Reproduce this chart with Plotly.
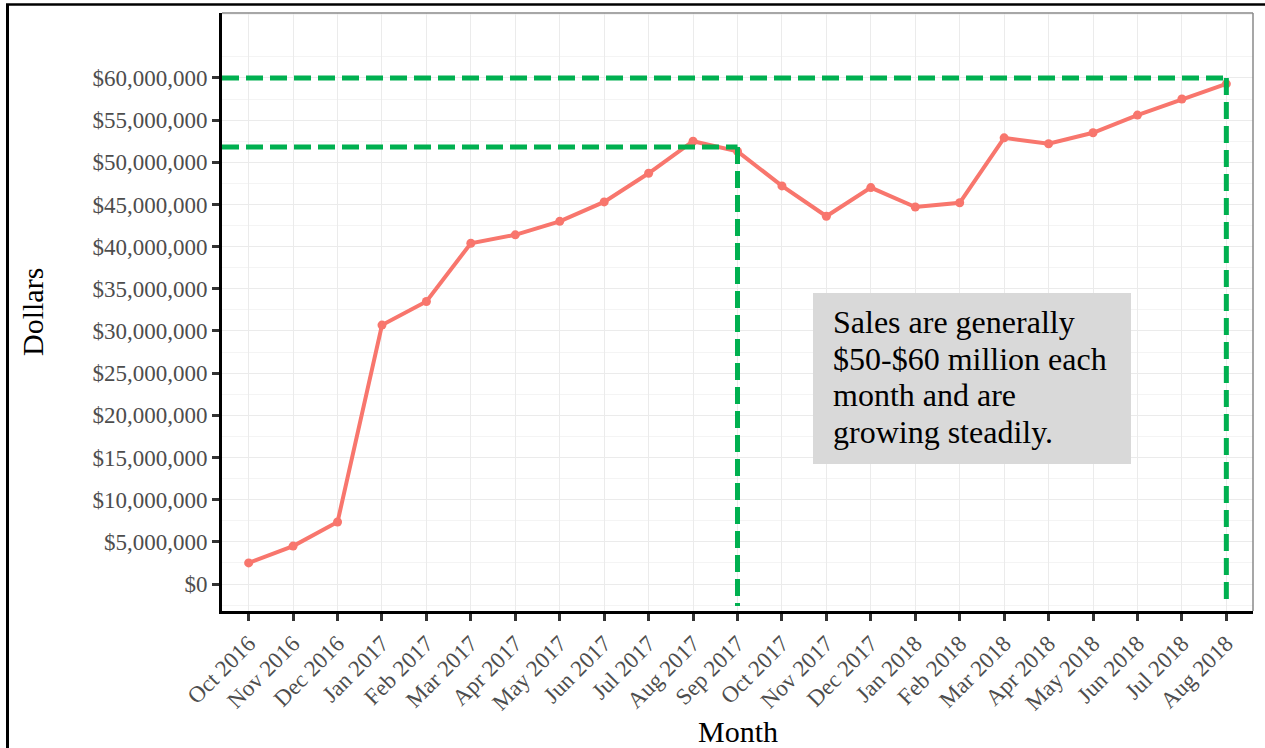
import plotly.graph_objects as go

# Monthly sales totals
months = ["Oct 2016", "Nov 2016", "Dec 2016", "Jan 2017", "Feb 2017", "Mar 2017",
          "Apr 2017", "May 2017", "Jun 2017", "Jul 2017", "Aug 2017", "Sep 2017",
          "Oct 2017", "Nov 2017", "Dec 2017", "Jan 2018", "Feb 2018", "Mar 2018",
          "Apr 2018", "May 2018", "Jun 2018", "Jul 2018", "Aug 2018"]
sales = [2.5e6, 4.5e6, 7.35e6, 30.7e6, 33.5e6, 40.4e6,
         41.4e6, 43.0e6, 45.3e6, 48.7e6, 52.5e6, 51.3e6,
         47.2e6, 43.6e6, 47.0e6, 44.7e6, 45.2e6, 52.9e6,
         52.2e6, 53.5e6, 55.6e6, 57.5e6, 59.3e6]

# Reference guide lines: (month, dollar level)
guide_months = ["Sep 2017", "Aug 2018"]
guide_levels = [51.8e6, 60e6]

y_ticks = list(range(0, 60_000_001, 5_000_000))
y_tick_text = ["${:,}".format(v) for v in y_ticks]

note_lines = ["Sales are generally", "$50-$60 million each",
              "month and are", "growing steadily."]

W, H = 1265, 748
L, R, T, B = 222, 1253, 13, 611


def px_x(px):
    return (px - L) / (R - L)


def px_y(py):
    return (B - py) / (B - T)


X_MIN, X_MAX = -0.6, len(months) - 1 + 0.6
Y_MIN, Y_MAX = -3.2e6, 67.7e6

serif = "Liberation Serif, Times New Roman, serif"
green = "#00B050"

fig = go.Figure()
fig.add_trace(go.Scatter(
    x=months, y=sales, mode="lines+markers",
    line=dict(color="#F8766D", width=4),
    marker=dict(color="#F8766D", size=9),
    showlegend=False, hoverinfo="x+y",
))

shapes = []
for m, lvl in zip(guide_months, guide_levels):
    xi = months.index(m)
    dash = dict(color=green, width=5, dash="17px,7px")
    shapes.append(dict(type="line", xref="x", yref="y", x0=X_MIN, x1=xi,
                       y0=lvl, y1=lvl, line=dash, layer="above"))
    shapes.append(dict(type="line", xref="x", yref="y", x0=xi, x1=xi,
                       y0=lvl, y1=-2.6e6, line=dash, layer="above"))

# grey panel border on top and right
shapes.append(dict(type="line", xref="paper", yref="paper", x0=0, x1=1, y0=1, y1=1,
                   line=dict(color="#8a8a8a", width=1.5)))
shapes.append(dict(type="line", xref="paper", yref="paper", x0=1, x1=1, y0=0, y1=1,
                   line=dict(color="#8a8a8a", width=1.5)))

# note box
shapes.append(dict(type="rect", xref="paper", yref="paper",
                   x0=px_x(813), x1=px_x(1131), y0=px_y(464), y1=px_y(293),
                   fillcolor="#d9d9d9", line=dict(width=0), layer="above"))

# frame around the figure
shapes.append(dict(type="line", xref="paper", yref="paper",
                   x0=px_x(7.5), x1=px_x(7.5), y0=px_y(4), y1=px_y(760),
                   line=dict(color="black", width=3)))
shapes.append(dict(type="line", xref="paper", yref="paper",
                   x0=px_x(6), x1=px_x(1280), y0=px_y(4.5), y1=px_y(4.5),
                   line=dict(color="black", width=2.5)))

annotations = []
for i, line in enumerate(note_lines):
    annotations.append(dict(
        text=line, xref="paper", yref="paper", x=px_x(831), y=px_y(322 + 36.7 * i),
        xanchor="left", yanchor="middle", showarrow=False,
        font=dict(family=serif, size=32, color="black"),
    ))

annotations.append(dict(text="Dollars", xref="paper", yref="paper",
                        x=px_x(32), y=px_y(312), textangle=-90,
                        xanchor="center", yanchor="middle", showarrow=False,
                        font=dict(family=serif, size=30, color="black")))
annotations.append(dict(text="Month", xref="paper", yref="paper",
                        x=px_x(737.5), y=px_y(731),
                        xanchor="center", yanchor="middle", showarrow=False,
                        font=dict(family=serif, size=30, color="black")))

fig.update_layout(
    width=W, height=H, autosize=False,
    margin=dict(l=L, r=W - R, t=T, b=H - B),
    paper_bgcolor="white", plot_bgcolor="white",
    shapes=shapes, annotations=annotations,
    font=dict(family=serif),
    xaxis=dict(
        type="category", range=[X_MIN, X_MAX],
        tickmode="array", tickvals=months, ticktext=months, tickangle=-45,
        tickfont=dict(family=serif, size=23, color="#4d4d4d"),
        showgrid=True, gridcolor="#ebebeb", gridwidth=1,
        showline=True, linecolor="black", linewidth=3,
        ticks="outside", ticklen=7, tickwidth=3, tickcolor="#333333",
        zeroline=False,
    ),
    yaxis=dict(
        range=[Y_MIN, Y_MAX],
        tickmode="array", tickvals=y_ticks, ticktext=y_tick_text,
        tickfont=dict(family=serif, size=23, color="#4d4d4d"),
        showgrid=True, gridcolor="#ebebeb", gridwidth=1,
        minor=dict(tickmode="linear", tick0=2.5e6, dtick=5e6, showgrid=True,
                   gridcolor="#f4f4f4", gridwidth=1, ticks=""),
        showline=True, linecolor="black", linewidth=3,
        ticks="outside", ticklen=7, tickwidth=3, tickcolor="#333333",
        zeroline=False,
    ),
)

fig.write_html("out.html")
